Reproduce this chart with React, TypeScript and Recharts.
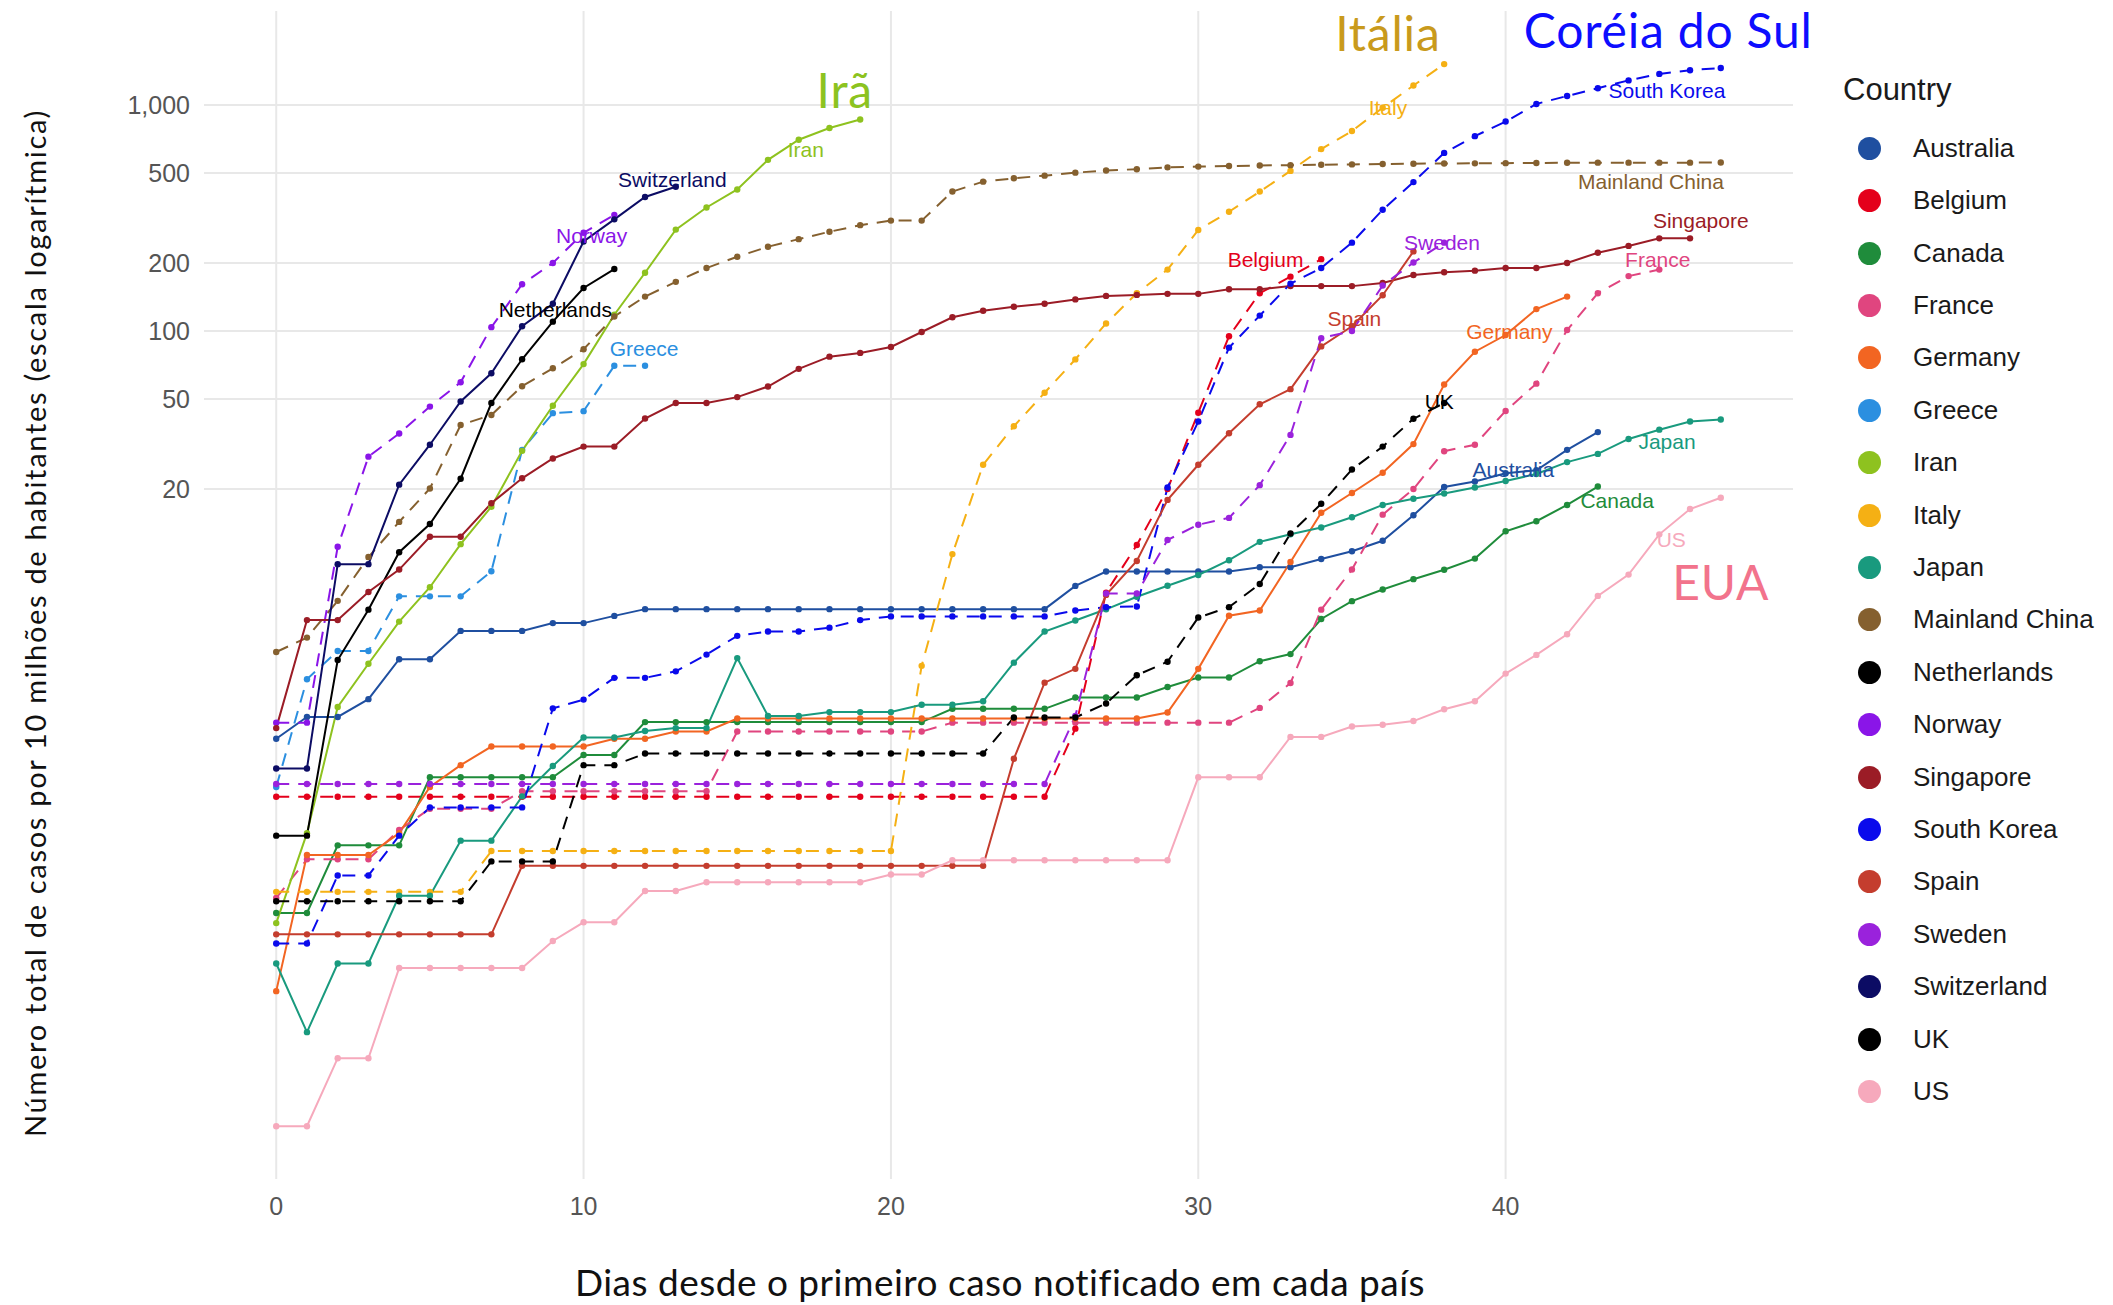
import React from 'react';
import { ComposedChart, Line, Scatter, XAxis, YAxis, CartesianGrid } from 'recharts';

// casos por 10 milhões de habitantes, dia 0 = primeiro caso
const australia = [1.57, 1.96, 1.96, 2.35, 3.53, 3.53, 4.71, 4.71, 4.71, 5.1, 5.1, 5.49,
  5.88, 5.88, 5.88, 5.88, 5.88, 5.88, 5.88, 5.88, 5.88, 5.88, 5.88, 5.88, 5.88, 5.88,
  7.45, 8.63, 8.63, 8.63, 8.63, 8.63, 9.02, 9.02, 9.8, 10.6, 11.8, 15.3, 20.4, 21.6, 23.5, 24.2, 29.8, 35.7];
const belgium = [0.87, 0.87, 0.87, 0.87, 0.87, 0.87, 0.87, 0.87, 0.87, 0.87, 0.87, 0.87, 0.87,
  0.87, 0.87, 0.87, 0.87, 0.87, 0.87, 0.87, 0.87, 0.87, 0.87, 0.87, 0.87, 0.87,
  1.74, 6.96, 11.3, 20.0, 43.5, 94.8, 147, 174, 208];
const canada = [0.266, 0.266, 0.53, 0.53, 0.53, 1.06, 1.06, 1.06, 1.06, 1.06, 1.33, 1.33,
  1.86, 1.86, 1.86, 1.86, 1.86, 1.86, 1.86, 1.86, 1.86, 1.86, 2.13, 2.13, 2.13, 2.13,
  2.39, 2.39, 2.39, 2.66, 2.93, 2.93, 3.46, 3.72, 5.32, 6.38, 7.18, 7.98, 8.78, 9.84, 13.0, 14.4, 17.0, 20.5];
const france = [0.31, 0.46, 0.46, 0.46, 0.62, 0.77, 0.77, 0.77,
  0.92, 0.92, 0.92, 0.92, 0.92, 0.92, 0.92, 1.69, 1.69, 1.69, 1.69, 1.69, 1.69, 1.69,
  1.85, 1.85, 1.85, 1.85, 1.85, 1.85, 1.85, 1.85, 1.85, 1.85,
  2.15, 2.77, 5.85, 8.8, 15.4, 20.0, 29.4, 31.4, 44.3, 58.5, 101, 147, 175, 187];
const germany = [0.12, 0.48, 0.48, 0.48, 0.6, 0.96, 1.2, 1.45, 1.45, 1.45, 1.45, 1.57, 1.57, 1.69, 1.69,
  1.93, 1.93, 1.93, 1.93, 1.93, 1.93, 1.93, 1.93, 1.93, 1.93, 1.93, 1.93, 1.93, 1.93,
  2.05, 3.2, 5.5, 5.8, 9.5, 15.7, 19.2, 23.6, 31.6, 58, 81, 96, 125, 142];
const greece = [0.96, 2.88, 3.84, 3.84, 6.7, 6.7, 6.7, 8.65, 29.8, 43.3, 44.2, 70.2, 70.2];
const iran = [0.24, 0.6, 2.17, 3.37, 5.18, 7.35, 11.4, 16.7, 29.5, 46.7, 71.4, 118, 181, 281,
  352, 423, 572, 702, 791, 863];
const italy = [0.33, 0.33, 0.33, 0.33, 0.33, 0.33, 0.33,
  0.5, 0.5, 0.5, 0.5, 0.5, 0.5, 0.5, 0.5, 0.5, 0.5, 0.5, 0.5, 0.5, 0.5,
  3.3, 10.3, 25.6, 37.9, 53.3, 74.9, 108, 147, 187, 280, 337, 414, 511, 638, 767, 973, 1220, 1517];
const japan = [0.159, 0.079, 0.159, 0.159, 0.317, 0.317, 0.556, 0.556, 0.873, 1.19, 1.59, 1.59,
  1.7, 1.75, 1.75, 3.57, 1.98, 1.98, 2.06, 2.06, 2.06, 2.22, 2.22, 2.3, 3.41, 4.68, 5.24,
  5.87, 6.67, 7.46, 8.33, 9.68, 11.67, 12.6, 13.5, 15.0, 17.0, 18.1, 19.1, 20.3, 21.7, 23.3,
  26.3, 28.6, 33.3, 36.6, 39.8, 40.6];
const mainlandChina = [3.8, 4.4, 6.4, 10.0, 14.3, 20.1, 38.4, 42.5, 57, 68.4, 83, 116, 142, 165,
  190, 213, 236, 255, 275, 294, 308, 308, 414, 458, 474, 487, 502, 513, 520, 530, 534, 537,
  540, 542, 544, 546, 548, 550, 551, 552, 553, 554, 555, 556, 556, 556, 556, 557];
const netherlands = [0.585, 0.585, 3.5, 5.85, 10.5, 14.0, 22.2, 48, 75, 110, 155, 188];
const norway = [1.85, 1.85, 11.1, 27.8, 35.2, 46.3, 59.3, 104, 161, 200, 272, 326];
const singapore = [1.75, 5.26, 5.26, 7.0, 8.8, 12.3, 12.3, 17.3, 22.3, 27.3, 30.8, 30.8, 41, 48,
  48, 51, 56.8, 68, 77, 80, 85, 99, 115, 123, 128, 132, 138, 143, 144.5, 146, 146, 153, 153,
  158, 158, 158, 163, 177, 182, 185, 190, 190, 200, 222, 238, 257, 257];
const southKorea = [0.195, 0.195, 0.39, 0.39, 0.585, 0.78, 0.78, 0.78, 0.78,
  2.14, 2.34, 2.92, 2.92, 3.12, 3.7, 4.48, 4.68, 4.68, 4.87, 5.26,
  5.46, 5.46, 5.46, 5.46, 5.46, 5.46, 5.8, 6.0, 6.04,
  20.3, 39.8, 84.4, 117, 162, 190, 246, 344, 456, 614, 728, 845, 1011, 1096, 1187, 1285, 1373, 1426, 1458];
const spain = [0.214, 0.214, 0.214, 0.214, 0.214, 0.214, 0.214, 0.214,
  0.43, 0.43, 0.43, 0.43, 0.43, 0.43, 0.43, 0.43, 0.43, 0.43, 0.43, 0.43, 0.43, 0.43, 0.43, 0.43,
  1.28, 2.78, 3.2, 6.8, 9.6, 17.9, 25.6, 35.3, 47.4, 55.3, 85.5, 105, 144, 225];
const sweden = [0.99, 0.99, 0.99, 0.99, 0.99, 0.99, 0.99, 0.99, 0.99, 0.99, 0.99, 0.99, 0.99,
  0.99, 0.99, 0.99, 0.99, 0.99, 0.99, 0.99, 0.99, 0.99, 0.99, 0.99, 0.99, 0.99,
  1.98, 6.9, 6.9, 11.9, 13.9, 14.9, 20.8, 34.7, 93, 100, 159, 201, 246];
const switzerland = [1.16, 1.16, 9.3, 9.3, 20.9, 31.4, 48.8, 65, 105, 132, 249, 312, 392, 435];
const uk = [0.3, 0.3, 0.3, 0.3, 0.3, 0.3, 0.3, 0.45, 0.45, 0.45, 1.2, 1.2,
  1.35, 1.35, 1.35, 1.35, 1.35, 1.35, 1.35, 1.35, 1.35, 1.35, 1.35, 1.35,
  1.95, 1.95, 1.95, 2.25, 3.0, 3.44, 5.4, 6.0, 7.6, 12.7, 17.2, 24.4, 30.8, 40.9, 48];
const us = [0.0303, 0.0303, 0.0606, 0.0606, 0.152, 0.152, 0.152, 0.152, 0.152, 0.2, 0.242, 0.242,
  0.333, 0.333, 0.364, 0.364, 0.364, 0.364, 0.364, 0.364, 0.394, 0.394,
  0.455, 0.455, 0.455, 0.455, 0.455, 0.455, 0.455, 0.455, 1.06, 1.06, 1.06, 1.6, 1.6,
  1.78, 1.81, 1.88, 2.12, 2.3, 3.05, 3.69, 4.55, 6.73, 8.36, 12.6, 16.3, 18.3];

const countries = ['Australia', 'Belgium', 'Canada', 'France', 'Germany', 'Greece', 'Iran', 'Italy',
  'Japan', 'Mainland China', 'Netherlands', 'Norway', 'Singapore', 'South Korea', 'Spain',
  'Sweden', 'Switzerland', 'UK', 'US'];

const seriesByCountry: Record<string, number[]> = {
  Australia: australia, Belgium: belgium, Canada: canada, France: france, Germany: germany,
  Greece: greece, Iran: iran, Italy: italy, Japan: japan, 'Mainland China': mainlandChina,
  Netherlands: netherlands, Norway: norway, Singapore: singapore, 'South Korea': southKorea,
  Spain: spain, Sweden: sweden, Switzerland: switzerland, UK: uk, US: us,
};

const xTicks = [0, 10, 20, 30, 40];
const yTicks = [20, 50, 100, 200, 500, 1000];

const colors: Record<string, string> = {
  Australia: '#1f4fa0', Belgium: '#e4001b', Canada: '#1f8c3b', France: '#e0457f',
  Germany: '#f26522', Greece: '#2b8fe0', Iran: '#8ec21f', Italy: '#f5b014', Japan: '#199a7e',
  'Mainland China': '#85602f', Netherlands: '#000000', Norway: '#8a15e8', Singapore: '#9b1c26',
  'South Korea': '#0a0aec', Spain: '#c43d2e', Sweden: '#9a22dc', Switzerland: '#0c0c64',
  UK: '#000000', US: '#f6a9bc',
};
const dashed = new Set(['Belgium', 'France', 'Greece', 'Italy', 'Mainland China', 'Norway',
  'South Korea', 'Sweden', 'UK']);

const maxLen = Math.max(...countries.map((c) => seriesByCountry[c].length));
const rows = Array.from({ length: maxLen }, (_, day) => {
  const row: Record<string, number | undefined> = { day };
  countries.forEach((c) => { row[c] = seriesByCountry[c][day]; });
  return row;
});

const SANS = '"Liberation Sans", Arial, Helvetica, sans-serif';
const TITLE_FONT = 'Lato, "Open Sans", sans-serif';

const MARGIN = { top: 11, right: 320, bottom: 66, left: 0 };
const CHART_W = 2113;
const CHART_H = 1305;
const Y_AXIS_W = 204;
const X_AXIS_H = 60;
const PLOT = {
  left: MARGIN.left + Y_AXIS_W,
  right: CHART_W - MARGIN.right,
  top: MARGIN.top,
  bottom: CHART_H - MARGIN.bottom - X_AXIS_H,
};

// rótulos no fim das linhas (coordenadas em dias / casos)
const lineLabels = [
  { text: 'Switzerland', day: 12.89, v: 470, c: 'Switzerland' },
  { text: 'Norway', day: 10.26, v: 264, c: 'Norway' },
  { text: 'Netherlands', day: 9.08, v: 124, c: 'Netherlands' },
  { text: 'Greece', day: 11.97, v: 83.4, c: 'Greece' },
  { text: 'Iran', day: 17.23, v: 635, c: 'Iran' },
  { text: 'Italy', day: 36.17, v: 973, c: 'Italy' },
  { text: 'South Korea', day: 45.25, v: 1162, c: 'South Korea' },
  { text: 'Mainland China', day: 44.73, v: 457, c: 'Mainland China' },
  { text: 'Singapore', day: 46.35, v: 307, c: 'Singapore' },
  { text: 'France', day: 44.95, v: 207, c: 'France' },
  { text: 'Belgium', day: 32.19, v: 207, c: 'Belgium' },
  { text: 'Sweden', day: 37.93, v: 247, c: 'Sweden' },
  { text: 'Spain', day: 35.08, v: 114, c: 'Spain' },
  { text: 'Germany', day: 40.12, v: 99.5, c: 'Germany' },
  { text: 'UK', day: 37.84, v: 48.8, c: 'UK' },
  { text: 'Australia', day: 40.25, v: 24.5, c: 'Australia' },
  { text: 'Japan', day: 45.25, v: 32.3, c: 'Japan' },
  { text: 'Canada', day: 43.63, v: 17.7, c: 'Canada' },
  { text: 'US', day: 45.39, v: 12.0, c: 'US' },
].map((l) => ({ ...l, color: colors[l.c], size: 21, family: SANS, spacing: 0 }));

const highlights = [
  { text: 'Irã', day: 18.5, v: 1166, color: '#8cc320' },
  { text: 'Itália', day: 36.17, v: 2104, color: '#c99a1c' },
  { text: 'Coréia do Sul', day: 45.29, v: 2148, color: '#0d0dff' },
  { text: 'EUA', day: 47.0, v: 7.76, color: '#f2738c' },
].map((l) => ({ ...l, size: 48, family: TITLE_FONT, spacing: 0.8 }));

const annotations = [...lineLabels, ...highlights];

const renderAnnotation = (props: any) => {
  const { cx, cy, payload } = props;
  if (cx == null || cy == null || !payload) return <g />;
  return (
    <text x={cx} y={cy} textAnchor="middle" dominantBaseline="central" fill={payload.color}
      fontSize={payload.size} fontFamily={payload.family} letterSpacing={payload.spacing}>
      {payload.text}
    </text>
  );
};

// linhas de grade sem a moldura nas bordas do painel
const gridLine = (p: any) => {
  const { x1, y1, x2, y2 } = p;
  const atEdgeX = x1 === x2 && (Math.abs(x1 - PLOT.left) < 1.5 || Math.abs(x1 - PLOT.right) < 1.5);
  const atEdgeY = y1 === y2 && (Math.abs(y1 - PLOT.top) < 1.5 || Math.abs(y1 - PLOT.bottom) < 1.5);
  if (atEdgeX || atEdgeY) return <g />;
  return <line x1={x1} y1={y1} x2={x2} y2={y2} stroke="#e8e8e8" strokeWidth={2} />;
};

const Legend = () => (
  <div style={{ position: 'absolute', left: 1843, top: 72, fontFamily: SANS, color: '#1a1a1a' }}>
    <div style={{ fontSize: 31, height: 36, lineHeight: '36px' }}>Country</div>
    <div style={{ position: 'absolute', top: 50, left: 0 }}>
      {countries.map((c) => (
        <div key={c} style={{ height: 52.42, display: 'flex', alignItems: 'center', whiteSpace: 'nowrap' }}>
          <span style={{ width: 23, height: 23, borderRadius: '50%', background: colors[c],
            marginLeft: 15, marginRight: 32, display: 'inline-block' }} />
          <span style={{ fontSize: 26 }}>{c}</span>
        </div>
      ))}
    </div>
  </div>
);

export default function App() {
  return (
    <div style={{ position: 'absolute', left: 0, top: 0, width: CHART_W, height: CHART_H, background: '#fff' }}>
      <ComposedChart width={CHART_W} height={CHART_H} data={rows} margin={MARGIN}>
        <CartesianGrid horizontal={gridLine} vertical={gridLine} />
        <XAxis type="number" dataKey="day" domain={[-2.35, 49.35]} ticks={xTicks}
          axisLine={false} tickLine={false} tickSize={8} tickMargin={10} height={X_AXIS_H}
          tick={{ fill: '#555', fontSize: 25, fontFamily: SANS }} />
        <YAxis type="number" scale="log" domain={[0.0177, 2606]} ticks={yTicks}
          axisLine={false} tickLine={false} tickSize={6} tickMargin={8} width={Y_AXIS_W}
          tickFormatter={(v: number) => (v === 1000 ? '1,000' : String(v))}
          tick={{ fill: '#555', fontSize: 25, fontFamily: SANS }} />
        {countries.map((c) => (
          <Line key={c} dataKey={c} stroke={colors[c]} strokeWidth={2}
            strokeDasharray={dashed.has(c) ? '13 9' : undefined}
            dot={{ r: 3.2, fill: colors[c], stroke: colors[c], strokeWidth: 0 }}
            activeDot={false} isAnimationActive={false} connectNulls={false} />
        ))}
        <Scatter data={annotations} dataKey="v" shape={renderAnnotation} isAnimationActive={false} />
      </ComposedChart>
      <div style={{ position: 'absolute', left: 34, top: 623, transform: 'translate(-50%, -50%) rotate(-90deg)',
        whiteSpace: 'nowrap', fontFamily: TITLE_FONT, fontSize: 29, letterSpacing: 1.7, color: '#111' }}>
        Número total de casos por 10 milhões de habitantes (escala logarítmica)
      </div>
      <div style={{ position: 'absolute', left: 1000, top: 1281, transform: 'translate(-50%, -50%)',
        whiteSpace: 'nowrap', fontFamily: TITLE_FONT, fontSize: 37, letterSpacing: 0.5, color: '#111' }}>
        Dias desde o primeiro caso notificado em cada país
      </div>
      <Legend />
    </div>
  );
}
